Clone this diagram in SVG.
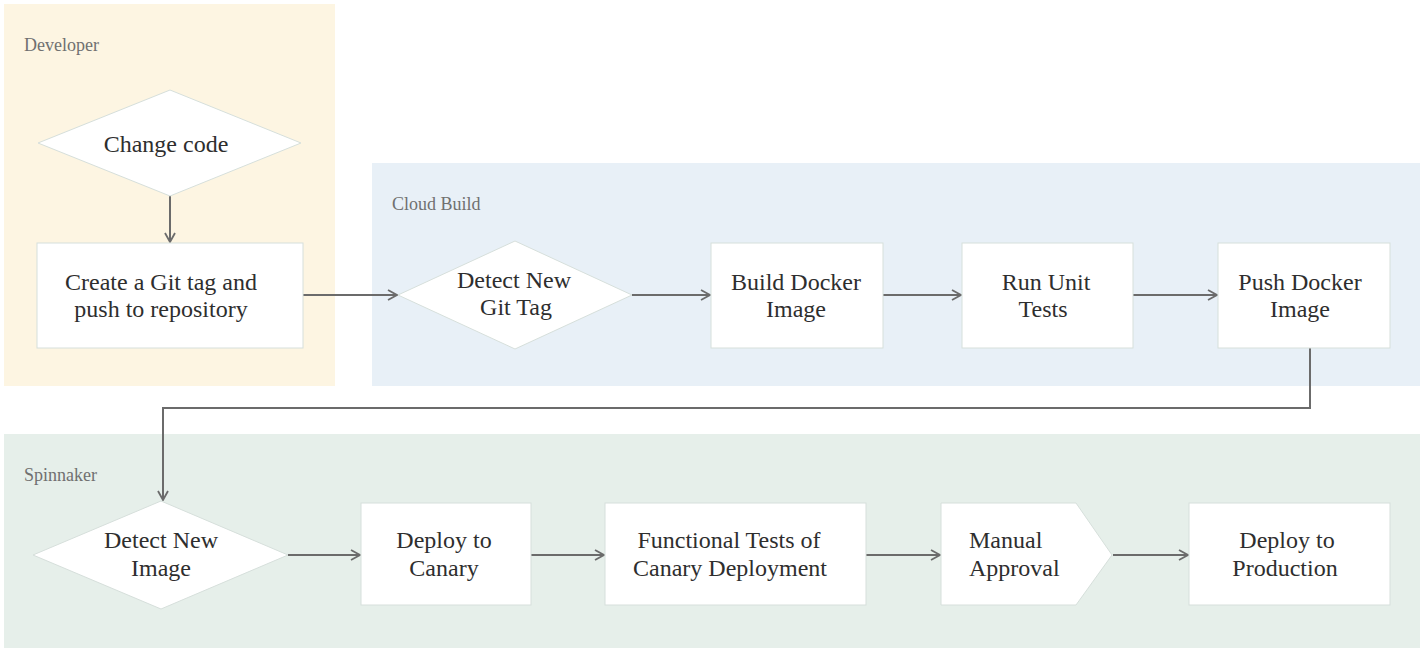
<svg xmlns="http://www.w3.org/2000/svg" width="1425" height="653" viewBox="0 0 1425 653">
<defs>
<style>
.lane-label{font-family:'Liberation Serif','Times New Roman','DejaVu Serif',serif;font-size:18px;fill:#707070}
.node{fill:#ffffff;stroke:#d6dfdb;stroke-width:1}
.t{font-family:'Liberation Serif','Times New Roman','DejaVu Serif',serif;font-size:24px;fill:#2e2e2e;text-anchor:middle}
.conn{fill:none;stroke:#6b6b6b;stroke-width:2;marker-end:url(#arr)}
</style>
<marker id="arr" viewBox="0 0 12 12" refX="11" refY="6" markerWidth="12" markerHeight="12" markerUnits="userSpaceOnUse" orient="auto">
<path d="M2,1 L11,6 L2,11" fill="none" stroke="#6b6b6b" stroke-width="1.8"/>
</marker>
</defs>
<rect width="1425" height="653" fill="#ffffff"/>
<g id="lane-developer">
<rect x="4" y="4" width="331" height="382" fill="#fdf5e2"/>
<text class="lane-label" x="24" y="51">Developer</text>
</g>
<g id="lane-cloudbuild">
<rect x="372" y="163" width="1048" height="223" fill="#e8f0f7"/>
<text class="lane-label" x="392" y="210">Cloud Build</text>
</g>
<g id="lane-spinnaker">
<rect x="4" y="434" width="1416" height="214" fill="#e6efea"/>
<text class="lane-label" x="24" y="481">Spinnaker</text>
</g>
<g id="connectors">
<path class="conn" d="M170,196 L170,242"/>
<path class="conn" d="M303,295 L397,295"/>
<path class="conn" d="M632,295 L710,295"/>
<path class="conn" d="M883,295 L961,295"/>
<path class="conn" d="M1133,295 L1217,295"/>
<path class="conn" d="M1310,348 L1310,408 L163,408 L163,500"/>
<path class="conn" d="M288,555 L360,555"/>
<path class="conn" d="M531,555 L604,555"/>
<path class="conn" d="M866,555 L940,555"/>
<path class="conn" d="M1113,555 L1188,555"/>
</g>
<g id="node-change-code">
<polygon class="node" points="38,143 170,90 301,143 170,196"/>
<text class="t" x="166" y="152">Change code</text>
</g>
<g id="node-create-tag">
<rect class="node" x="37" y="243" width="266" height="105"/>
<text class="t" x="161" y="290">Create a Git tag and</text>
<text class="t" x="161" y="317">push to repository</text>
</g>
<g id="node-detect-tag">
<polygon class="node" points="398,295 515,241 632,295 515,349"/>
<text class="t" x="514" y="288">Detect New</text>
<text class="t" x="516" y="315">Git Tag</text>
</g>
<g id="node-build-image">
<rect class="node" x="711" y="243" width="172" height="105"/>
<text class="t" x="796" y="290">Build Docker</text>
<text class="t" x="796" y="317">Image</text>
</g>
<g id="node-unit-tests">
<rect class="node" x="962" y="243" width="171" height="105"/>
<text class="t" x="1046" y="290">Run Unit</text>
<text class="t" x="1043" y="317">Tests</text>
</g>
<g id="node-push-image">
<rect class="node" x="1218" y="243" width="172" height="105"/>
<text class="t" x="1300" y="290">Push Docker</text>
<text class="t" x="1300" y="317">Image</text>
</g>
<g id="node-detect-image">
<polygon class="node" points="33,555 161,501 288,555 161,609"/>
<text class="t" x="161" y="548">Detect New</text>
<text class="t" x="161" y="576">Image</text>
</g>
<g id="node-deploy-canary">
<rect class="node" x="361" y="503" width="170" height="102"/>
<text class="t" x="444" y="548">Deploy to</text>
<text class="t" x="444" y="576">Canary</text>
</g>
<g id="node-functional-tests">
<rect class="node" x="605" y="503" width="261" height="102"/>
<text class="t" x="729" y="548">Functional Tests of</text>
<text class="t" x="730" y="576">Canary Deployment</text>
</g>
<g id="node-manual-approval">
<polygon class="node" points="941,503 1076,503 1112,555 1076,605 941,605"/>
<text class="t" x="969" y="548" style="text-anchor:start">Manual</text>
<text class="t" x="969" y="576" style="text-anchor:start">Approval</text>
</g>
<g id="node-deploy-prod">
<rect class="node" x="1189" y="503" width="201" height="102"/>
<text class="t" x="1287" y="548">Deploy to</text>
<text class="t" x="1285" y="576">Production</text>
</g>
</svg>
